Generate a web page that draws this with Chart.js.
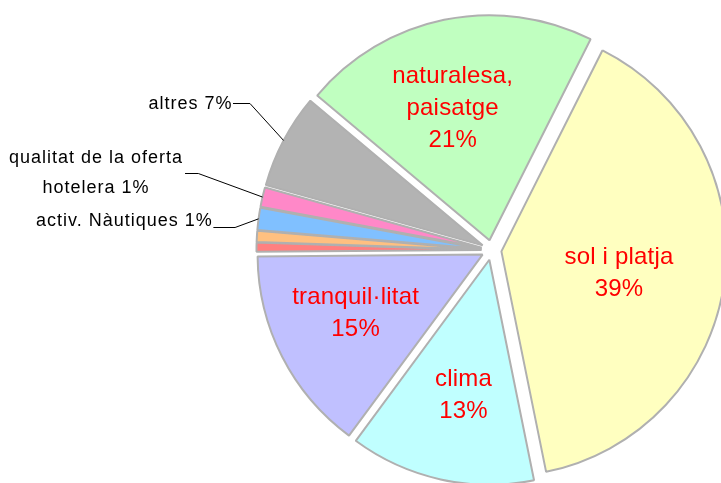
<!DOCTYPE html>
<html><head><meta charset="utf-8">
<script src="https://cdn.jsdelivr.net/npm/chart.js@4/dist/chart.umd.min.js"></script>
<style>html,body{margin:0;padding:0;background:#fff;overflow:hidden}canvas{display:block}</style>
</head><body>
<canvas id="c" width="721" height="483"></canvas>
<script>
// ---- data ----
const categories = ["sol i platja", "clima", "tranquil·litat", "", "", "activ. Nàutiques", "qualitat de la oferta hotelera", "altres", "naturalesa, paisatge"];
const shares = [39.4, 13.3, 14.75, 0.65, 0.8, 1.6, 1.4, 6.8, 21.3];
const pctLabels = ["39%", "13%", "15%", "", "", "1%", "1%", "7%", "21%"];
const innerLines = [["sol i platja", "39%"], ["clima", "13%"], ["tranquil·litat", "15%"], null, null, null, null, null, ["naturalesa,", "paisatge", "21%"]];
const outerLines = [null, null, null, null, null, ["activ. Nàutiques 1%"], ["qualitat de la oferta", "hotelera 1%"], ["altres 7%"], null];
const colors = ["#FFFFC0", "#C0FFFF", "#C0C0FF", "#FF8080", "#FFC080", "#80C0FF", "#FF88C8", "#B3B3B3", "#C0FFC0"];

// ---- layout / style ----
const EXPLODE = 10;
const RADIUS = 225;
const INNER_FONT = "24px 'Liberation Sans', Arial, sans-serif";
const INNER_LS = 0.2;
const OUTER_FONT = "18px 'Liberation Sans', Arial, sans-serif";
const OUTER_LS = 1.0;
// inner label placement: [fraction of radius, angle tweak (deg)]
const innerPlace = { 0: [0.537, 5.9], 1: [0.643, -2.15], 2: [0.636, -0.35], 8: [0.581, -4.75] };
// outer label placement: elbow offset from anchor, horizontal segment, text config
const outerPlace = {
  7: { elbow: [-33.6, -37.1], seg: 17, align: 'right', gap: 1.5, base: [6] },
  6: { elbow: [-64.2, -23.8], seg: 13.3, align: 'center', cx: 102.8, base: [-10, 20] },
  5: { elbow: [-23.5, 8.2], seg: 21.7, align: 'right', gap: 1.6, base: [-0.6] }
};

const explodePlugin = {
  id: 'explode',
  beforeDatasetDraw(chart, args) {
    const ctx = chart.ctx;
    args.meta.data.forEach(arc => {
      const a = (arc.startAngle + arc.endAngle) / 2;
      ctx.save();
      ctx.translate(Math.cos(a) * EXPLODE, Math.sin(a) * EXPLODE);
      arc.draw(ctx);
      ctx.restore();
    });
    return false;
  },
  afterDatasetsDraw(chart) {
    const ctx = chart.ctx;
    const arcs = chart.getDatasetMeta(0).data;
    arcs.forEach((arc, i) => {
      const a = (arc.startAngle + arc.endAngle) / 2;
      const R = arc.outerRadius;
      const ox = arc.x + Math.cos(a) * EXPLODE, oy = arc.y + Math.sin(a) * EXPLODE;
      if (innerLines[i]) {
        const [f, tw] = innerPlace[i];
        const b = a + tw * Math.PI / 180;
        const px = ox + Math.cos(b) * f * R, py = oy + Math.sin(b) * f * R;
        ctx.save();
        ctx.font = INNER_FONT;
        ctx.letterSpacing = INNER_LS + 'px';
        ctx.fillStyle = '#FF0000';
        ctx.textAlign = 'left';
        ctx.textBaseline = 'alphabetic';
        const n = innerLines[i].length;
        innerLines[i].forEach((s, k) => {
          const w = ctx.measureText(s).width - INNER_LS;
          ctx.fillText(s, px - w / 2, py + (k - (n - 1) / 2) * 32);
        });
        ctx.restore();
      }
      if (outerLines[i]) {
        const p = outerPlace[i];
        const ax = ox + Math.cos(a) * R, ay = oy + Math.sin(a) * R;
        const ex = ax + p.elbow[0], ey = ay + p.elbow[1];
        const lx = ex - p.seg;
        ctx.save();
        ctx.strokeStyle = '#000';
        ctx.lineWidth = 1;
        ctx.beginPath();
        ctx.moveTo(ax, ay);
        ctx.lineTo(ex, Math.round(ey) + 0.5);
        ctx.lineTo(lx, Math.round(ey) + 0.5);
        ctx.stroke();
        ctx.font = OUTER_FONT;
        ctx.letterSpacing = OUTER_LS + 'px';
        ctx.fillStyle = '#000';
        ctx.textAlign = 'left';
        ctx.textBaseline = 'alphabetic';
        outerLines[i].forEach((s, k) => {
          const w = ctx.measureText(s).width - OUTER_LS;
          let x;
          if (p.align === 'right') x = lx - p.gap - w;
          else x = ex - p.cx - w / 2;
          ctx.fillText(s, x, ey + p.base[k]);
        });
        ctx.restore();
      }
    });
  }
};

new Chart(document.getElementById('c'), {
  type: 'pie',
  data: {
    labels: categories,
    datasets: [{
      data: shares,
      backgroundColor: colors,
      borderColor: '#B0B0B0',
      borderWidth: 2,
      radius: RADIUS,
      rotation: 26.7,
      offset: 0,
      hoverOffset: 0,
      clip: false
    }]
  },
  options: {
    responsive: false,
    animation: false,
    events: [],
    layout: { padding: { left: 262, top: 17, right: 0, bottom: 0 } },
    plugins: { legend: { display: false }, tooltip: { enabled: false } }
  },
  plugins: [explodePlugin]
});
</script>
</body></html>
